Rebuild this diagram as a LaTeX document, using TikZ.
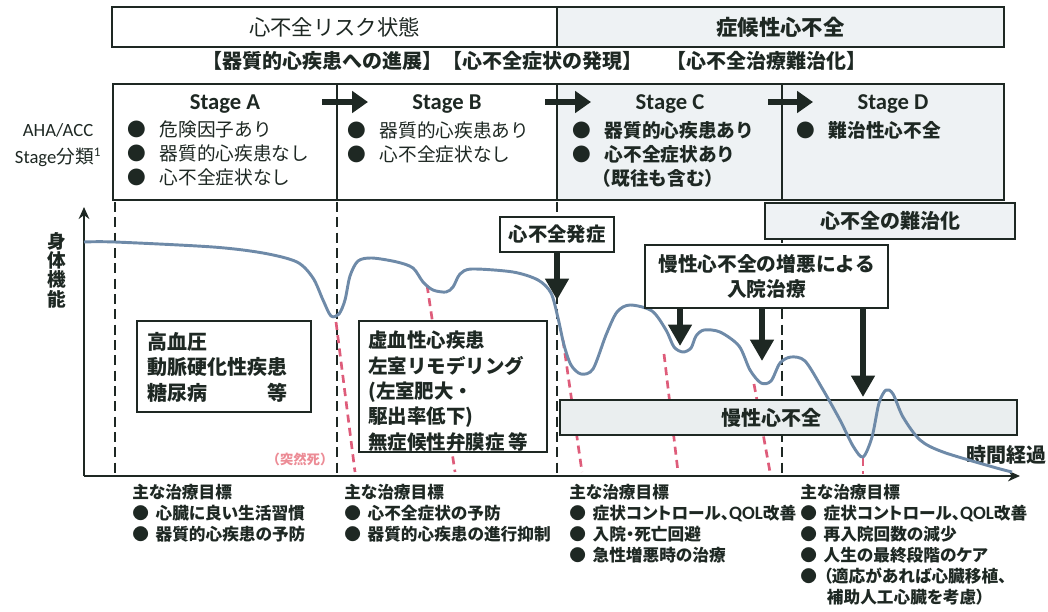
\documentclass[tikz,border=0pt]{standalone}
\usepackage{fontspec}
\setmainfont{Carlito}
\newfontfamily\jp{Noto Sans CJK JP}
\newfontfamily\jpp{Noto Sans CJK JP}[RawFeature=+palt]
\usetikzlibrary{arrows.meta,fit}
\definecolor{ink}{RGB}{30,40,35}
\definecolor{boxfill}{RGB}{238,242,244}
\definecolor{bandfill}{RGB}{234,238,239}
\definecolor{curvecol}{RGB}{110,138,168}
\definecolor{redline}{RGB}{222,92,122}
\definecolor{pinktext}{RGB}{236,140,150}
\newcommand\stbul{\makebox[1.75em][l]{●}}
\newcommand\gbul{\makebox[1.4em][l]{●}}
\newcommand\qol{{\fontsize{14.2}{15.8}\selectfont\rmfamily QOL}}
\begin{document}
\begin{tikzpicture}[x=0.75pt,y=-0.75pt,
  frame/.style={draw=ink,line width=2pt,inner sep=0pt},
  jpm/.style={font=\jp\fontsize{14}{18}\selectfont,text=ink},
  jpb/.style={font=\jp\bfseries\fontsize{14}{18}\selectfont,text=ink},
  jpbig/.style={font=\jp\bfseries\fontsize{15}{19}\selectfont,text=ink},
  stagehead/.style={font=\bfseries\fontsize{17}{20}\selectfont,text=ink},
  stagetext/.style={anchor=north west,align=left,inner sep=0pt},
  vdash/.style={draw=ink,line width=2.2pt,dash pattern=on 7.5pt off 4pt},
  rdash/.style={draw=redline,line width=2pt,dash pattern=on 6pt off 4pt},
  stagearrow/.style={draw=ink,line width=5pt,-{Triangle[length=12pt,width=16pt]}},
  downarrow/.style={draw=ink,line width=5pt,-{Triangle[length=16pt,width=17pt]}},
  axisline/.style={draw=ink,line width=2pt,-{Stealth[length=9pt,width=8pt]}},
  curve/.style={draw=curvecol,line width=2.2pt,line join=round},
  goal/.style={font=\jpp\bfseries\fontsize{12.5}{15.8}\selectfont,text=ink,align=left,anchor=north west,inner sep=0pt},
]
\useasboundingbox (0,0) rectangle (1048,611);

% ---------- vertical stage dashed lines ----------
\coordinate (vA1) at (115,202); \coordinate (vA2) at (115,476);
\coordinate (vB1) at (337,202); \coordinate (vB2) at (337,476);
\coordinate (vC1) at (557,202); \coordinate (vC2) at (557,476);
\coordinate (vD1) at (782,202); \coordinate (vD2) at (782,476);
\draw[vdash] (vA1) -- (vA2);
\draw[vdash] (vB1) -- (vB2);
\draw[vdash] (vC1) -- (vC2);
\draw[vdash] (vD1) -- (vD2);

% ---------- red dashed drops ----------
\coordinate (r1a) at (336,322); \coordinate (r1b) at (355,472);
\coordinate (r2a) at (427,285); \coordinate (r2b) at (455,472);
\coordinate (r3a) at (563,340); \coordinate (r3b) at (582,472);
\coordinate (r4a) at (664,354); \coordinate (r4b) at (678,472);
\coordinate (r5a) at (754,384); \coordinate (r5b) at (770,472);
\coordinate (r6a) at (863,458); \coordinate (r6b) at (863,474);
\draw[rdash] (r1a) -- (r1b);
\draw[rdash] (r2a) -- (r2b);
\draw[rdash] (r3a) -- (r3b);
\draw[rdash] (r4a) -- (r4b);
\draw[rdash] (r5a) -- (r5b);
\draw[rdash] (r6a) -- (r6b);
\node[font=\jp\bfseries\fontsize{10}{11}\selectfont,text=pinktext] (sudden) at (300,459) {（突然死）};

% ---------- chronic band ----------
\node[frame,fill=bandfill,fit={(560,400)(1017,435)}] (chronic) {};
\node[jpbig] (chronictxt) at (771,418) {慢性心不全};

% ---------- axes ----------
\coordinate (orig) at (84,476);
\coordinate (ytop) at (84,207);
\coordinate (xend) at (1020,476);
\draw[axisline] (orig) -- (ytop);
\draw[axisline] (orig) -- (xend);
\node[font=\jp\bfseries\fontsize{14}{14.5}\selectfont,text=ink,align=center] (ylab) at (57,270) {身\\体\\機\\能};
\node[jpbig] (xlab) at (1006,455) {時間経過};

% ---------- top banners ----------
\node[frame,fill=white,fit={(112,7)(557,47)}] (risk) {};
\node[font=\jp\fontsize{16}{18}\selectfont,text=ink] (riskT) at (risk.center) {心不全リスク状態};
\node[frame,fill=boxfill,fit={(557,7)(1004,47)}] (symp) {};
\node[font=\jp\bfseries\fontsize{16}{18}\selectfont,text=ink] (sympT) at (symp.center) {症候性心不全};

\node[jpbig] (br1) at (322,61) {【器質的心疾患への進展】};
\node[jpbig] (br2) at (542,61) {【心不全症状の発現】};
\node[jpbig] (br3) at (766,61) {【心不全治療難治化】};

% ---------- stage boxes ----------
\node[frame,fill=white,fit={(113,84)(337,200)}] (stA) {};
\node[frame,fill=white,fit={(337,84)(557,200)}] (stB) {};
\node[frame,fill=boxfill,fit={(557,84)(782,200)}] (stC) {};
\node[frame,fill=boxfill,fit={(782,84)(1004,200)}] (stD) {};

\node[stagehead] (hA) at (225,104) {Stage A};
\node[stagehead] (hB) at (447,104) {Stage B};
\node[stagehead] (hC) at (670,104) {Stage C};
\node[stagehead] (hD) at (893,104) {Stage D};

\node[jpm,stagetext] (tA) at (127,121) {\stbul 危険因子あり\\\stbul 器質的心疾患なし\\\stbul 心不全症状なし};
\node[jpm,stagetext] (tB) at (347,121) {\stbul 器質的心疾患あり\\\stbul 心不全症状なし};
\node[jpb,stagetext] (tC) at (572,121) {\stbul 器質的心疾患あり\\\stbul 心不全症状あり\\\hspace{1.1em}（既往も含む）};
\node[jpb,stagetext] (tD) at (796,121) {\stbul 難治性心不全};

\node[font=\fontsize{14}{20}\selectfont,text=ink,align=center] (aha) at (58,145) {AHA/ACC\\Stage{\jp 分類}\textsuperscript{1}};

% stage arrows
\coordinate (ab1) at (322,102); \coordinate (ab2) at (368,102);
\coordinate (bc1) at (545,102); \coordinate (bc2) at (591,102);
\coordinate (cd1) at (768,102); \coordinate (cd2) at (813,102);
\draw[stagearrow] (ab1) -- (ab2);
\draw[stagearrow] (bc1) -- (bc2);
\draw[stagearrow] (cd1) -- (cd2);

% ---------- disease boxes ----------
\node[frame,fill=white,fit={(137,321)(311,412)}] (riskdis) {};
\node[font=\jp\bfseries\fontsize{15}{19}\selectfont,text=ink,stagetext] (riskdistxt) at (147,332) {高血圧\\動脈硬化性疾患\\糖尿病　　　等};
\node[frame,fill=white,fit={(359,321)(547,452)}] (ihd) {};
\node[font=\jp\bfseries\fontsize{14.6}{19}\selectfont,text=ink,stagetext] (ihdtxt) at (368,331) {虚血性心疾患\\左室リモデリング\\(左室肥大・\\駆出率低下)\\無症候性弁膜症 等};

% ---------- curve ----------
\draw[curve] plot[smooth,tension=0.5] coordinates {(84,242) (115,242) (213,247) (263,253) (297,262) (313,278) (323,300) (331,316) (339,314) (345,300) (350,276) (358,261) (372,258) (397,262) (413,268) (423,282) (433,290) (446,292) (453,287) (460,274) (472,269) (513,272) (538,280) (551,293) (558,318) (564,345) (571,365) (581,374) (593,369) (606,335) (617,312) (630,305) (652,311) (666,330) (674,347) (683,352) (691,348) (696,336) (704,330) (720,332) (739,346) (750,370) (761,383) (771,381) (780,363) (791,357) (805,361) (822,388) (840,420) (853,446) (863,457) (872,437) (879,403) (886,390) (893,394) (903,417) (920,440) (943,452) (993,467) (1012,472)};

% ---------- event boxes ----------
\node[frame,fill=white,fit={(500,217)(614,252)}] (onset) {};
\node[font=\jp\bfseries\fontsize{14.5}{18}\selectfont,text=ink] (onsetT) at (onset.center) {心不全発症};
\coordinate (onsetTip) at (557,300);
\draw[downarrow] (onset.south -| onsetTip) -- (onsetTip);

\node[frame,fill=boxfill,fit={(765,203)(1015,239)}] (refr) {};
\node[jpbig] (refrT) at (refr.center) {心不全の難治化};

\node[frame,fill=white,fit={(645,245)(888,308)}] (worsen) {};
\node[font=\jp\bfseries\fontsize{14.8}{19}\selectfont,text=ink,align=center] (worsenT) at (worsen.center) {慢性心不全の増悪による\\入院治療};
\coordinate (w1t) at (680,346);
\coordinate (w2t) at (762,361);
\coordinate (w3t) at (863,397);
\draw[downarrow] (worsen.south -| w1t) -- (w1t);
\draw[downarrow] (worsen.south -| w2t) -- (w2t);
\draw[downarrow] (worsen.south -| w3t) -- (w3t);

% ---------- treatment goals ----------
\node[goal] (g1) at (132,484) {主な治療目標\\\gbul 心臓に良い生活習慣\\\gbul 器質的心疾患の予防};
\node[goal] (g2) at (344,484) {主な治療目標\\\gbul 心不全症状の予防\\\gbul 器質的心疾患の進行抑制};
\node[goal] (g3) at (569,484) {主な治療目標\\\gbul 症状コントロール、\qol 改善\\\gbul 入院・死亡回避\\\gbul 急性増悪時の治療};
\node[goal] (g4) at (800,484) {主な治療目標\\\gbul 症状コントロール、\qol 改善\\\gbul 再入院回数の減少\\\gbul 人生の最終段階のケア\\\gbul （適応があれば心臓移植、\\\hspace{1.6em}補助人工心臓を考慮）};
\end{tikzpicture}
\end{document}
